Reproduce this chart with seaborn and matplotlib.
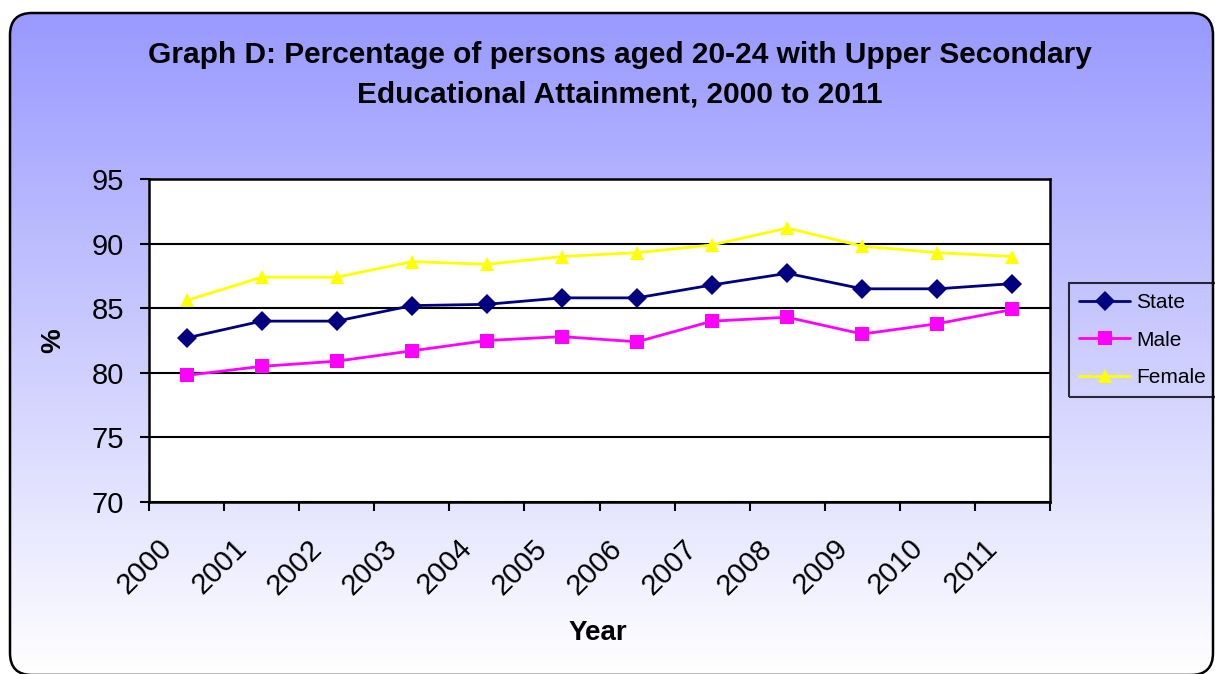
import numpy as np
import pandas as pd
import matplotlib
matplotlib.use("Agg")
import matplotlib.pyplot as plt
import matplotlib.transforms as mtransforms
from matplotlib.patches import FancyBboxPatch
import seaborn as sns

years = ["2000", "2001", "2002", "2003", "2004", "2005",
         "2006", "2007", "2008", "2009", "2010", "2011"]
state = [82.7, 84.0, 84.0, 85.2, 85.3, 85.8, 85.8, 86.8, 87.7, 86.5, 86.5, 86.9]
male = [79.8, 80.5, 80.9, 81.7, 82.5, 82.8, 82.4, 84.0, 84.3, 83.0, 83.8, 84.9]
female = [85.6, 87.4, 87.4, 88.6, 88.4, 89.0, 89.3, 89.9, 91.2, 89.8, 89.3, 89.0]
series_names = ["State", "Male", "Female"]
y_ticks = [70, 75, 80, 85, 90, 95]

sns.set_style("white")
plt.rcParams["font.family"] = ["Liberation Sans", "DejaVu Sans"]
for key in ["text.color", "axes.labelcolor", "xtick.color", "ytick.color"]:
    plt.rcParams[key] = "black"

W, H, DPI = 1215, 674, 100
fig = plt.figure(figsize=(W / DPI, H / DPI), dpi=DPI)
fig.patch.set_facecolor("white")

# Rounded chart-area panel with a vertical blue-to-white gradient
bg = fig.add_axes([0, 0, 1, 1], zorder=-10)
bg.set_xlim(0, W)
bg.set_ylim(H, 0)
bg.axis("off")
grad = np.linspace(0, 1, 256)[:, None]
top = np.array([153, 153, 255]) / 255
bot = np.array([255, 255, 255]) / 255
img = top[None, None, :] * (1 - grad[..., None]) + bot[None, None, :] * grad[..., None]
img = np.repeat(img, 2, axis=1)
panel = FancyBboxPatch((10, 13), 1203, 662,
                       boxstyle="round,pad=0,rounding_size=22",
                       facecolor="none", edgecolor="black", linewidth=1.8)
bg.add_patch(panel)
im = bg.imshow(img, extent=[10, 1213, 675, 13], aspect="auto", zorder=0)
im.set_clip_path(panel)

# Long-form data for seaborn
df = pd.DataFrame({
    "pos": list(range(len(years))) * 3,
    "value": state + male + female,
    "series": np.repeat(series_names, len(years)),
})

ax = fig.add_axes([149 / W, 1 - 502 / H, (1050 - 149) / W, (502 - 179) / H])
ax.set_facecolor("white")
palette = {"State": "#000080", "Male": "#FF00FF", "Female": "#FFFF00"}
markers = {"State": "D", "Male": "s", "Female": "^"}
sns.lineplot(data=df, x="pos", y="value", hue="series", style="series",
             palette=palette, markers=markers, dashes=False,
             markersize=10, linewidth=2, markeredgewidth=0,
             ax=ax, legend=True, zorder=3)

ax.set_xlim(-0.5, len(years) - 0.5)
ax.set_ylim(70, 95)
ax.set_yticks(y_ticks)
ax.set_yticklabels([str(v) for v in y_ticks], fontsize=21)
ax.yaxis.grid(True, color="black", linewidth=1.5)
ax.set_axisbelow(True)

# Tick marks sit on category boundaries, labels at category centres
ax.set_xticks(np.arange(len(years)))
ax.set_xticklabels(years, rotation=45, ha="right", rotation_mode="anchor", fontsize=21)
ax.set_xticks(np.arange(-0.5, len(years)), minor=True)
ax.tick_params(axis="x", which="major", length=0, pad=16)
ax.tick_params(axis="x", which="minor", length=6.5, width=1.5, color="black", bottom=True)
ax.tick_params(axis="y", length=6.5, width=1.5, color="black", left=True, pad=11.5)
shift = mtransforms.ScaledTranslation(-0.29, -0.10, fig.dpi_scale_trans)
for lab in ax.get_xticklabels():
    lab.set_transform(lab.get_transform() + shift)
for s in ax.spines.values():
    s.set_color("black")
    s.set_linewidth(1.8)

ax.set_xlabel("Year", fontsize=20, fontweight="bold")
ax.xaxis.set_label_coords(0.498, -0.365)
ax.set_ylabel("%", fontsize=20, fontweight="bold")
ax.yaxis.set_label_coords(-0.1065, 0.5)
ax.yaxis.label.set_va("center")

fig.text(620 / W, 1 - 75 / H,
         "Graph D: Percentage of persons aged 20-24 with Upper Secondary\nEducational Attainment, 2000 to 2011",
         ha="center", va="center", fontsize=21.5, fontweight="bold", linespacing=1.52)

handles, labels = ax.get_legend_handles_labels()
leg = ax.legend(handles, labels, loc="center left",
                bbox_to_anchor=(1069 / W, 1 - 340 / H), bbox_transform=fig.transFigure,
                frameon=True, fontsize=15, handlelength=2.45, handletextpad=0.3,
                borderpad=0.48, labelspacing=0.89, fancybox=False, borderaxespad=0)
leg.get_frame().set_edgecolor("black")
leg.get_frame().set_linewidth(1.5)
leg.get_frame().set_facecolor("none")
for h in leg.legend_handles:
    h.set_markersize(10)

fig.savefig("out.png", dpi=DPI)
